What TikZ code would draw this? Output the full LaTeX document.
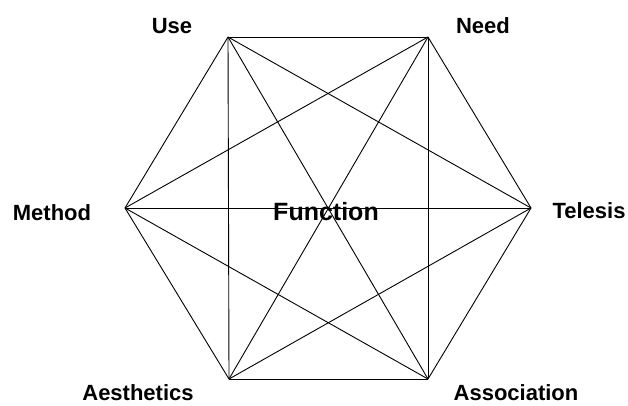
\documentclass[tikz,border=0pt]{standalone}
\usepackage{fontspec}
\setmainfont{Liberation Sans}
\usetikzlibrary{positioning}
\tikzset{
  lbl/.style={font=\fontsize{22}{25}\selectfont\bfseries, inner sep=0pt},
  ctr/.style={font=\fontsize{25}{29}\selectfont\bfseries, inner sep=0pt},
  edge/.style={black, line width=0.9pt}
}

\begin{document}
\begin{tikzpicture}[x=1pt,y=-1pt]
  \useasboundingbox (0,0) rectangle (628,405);
  % Ecken des Sechsecks
  \coordinate (use) at (228,37);
  \coordinate (need) at (428,37);
  \coordinate (tel) at (531,208);
  \coordinate (asso) at (428,379);
  \coordinate (aest) at (229,379);
  \coordinate (meth) at (125,208);
  % jede Ecke mit jeder verbunden
  \foreach \a/\b in {use/need,use/tel,use/asso,use/aest,use/meth,
                     need/tel,need/asso,need/aest,need/meth,
                     tel/asso,tel/aest,tel/meth,
                     asso/aest,asso/meth,aest/meth}
    \draw[edge] (\a)--(\b);
  % Beschriftungen
  \node[lbl] (uselbl) at (172,26) {Use};
  \node[lbl] (needlbl) at (483,26) {Need};
  \node[lbl] (methlbl) at (52,213) {Method};
  \node[lbl] (tellbl) at (589,211) {Telesis};
  \node[lbl] (aestlbl) at (138,393) {Aesthetics};
  \node[lbl] (assolbl) at (516,393) {Association};
  \node[ctr] (func) at (326,212) {Function};
\end{tikzpicture}
\end{document}
